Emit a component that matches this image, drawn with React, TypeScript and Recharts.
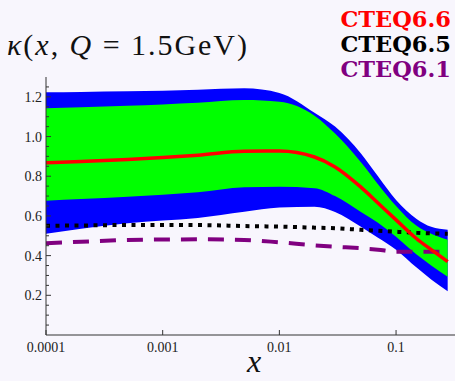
import { ComposedChart, Area, Line, XAxis, YAxis } from 'recharts';

const xs = [0.0001, 0.0002, 0.0005, 0.001, 0.002, 0.005, 0.01, 0.02, 0.03, 0.05, 0.07, 0.1, 0.15, 0.2, 0.277];

// CTEQ6.6 error bands (outer = blue, inner = green)
const blueLow = [0.51, 0.535, 0.563, 0.577, 0.59, 0.621, 0.643, 0.646, 0.62, 0.545, 0.49, 0.43, 0.34, 0.28, 0.22];
const blueHigh = [1.223, 1.225, 1.228, 1.231, 1.236, 1.243, 1.22, 1.12, 1.05, 0.915, 0.8, 0.68, 0.585, 0.545, 0.53];
const greenLow = [0.677, 0.685, 0.697, 0.707, 0.719, 0.744, 0.747, 0.74, 0.7, 0.62, 0.565, 0.495, 0.405, 0.35, 0.294];
const greenHigh = [1.142, 1.148, 1.155, 1.162, 1.17, 1.184, 1.175, 1.105, 1.015, 0.87, 0.76, 0.65, 0.55, 0.51, 0.48];

// central values
const cteq66 = [0.868, 0.874, 0.884, 0.894, 0.906, 0.926, 0.927, 0.897, 0.847, 0.745, 0.665, 0.58, 0.485, 0.43, 0.37];
const cteq65 = [0.55, 0.552, 0.554, 0.554, 0.554, 0.549, 0.546, 0.541, 0.538, 0.53, 0.525, 0.52, 0.515, 0.512, 0.51];
const cteq61 = [0.462, 0.47, 0.479, 0.481, 0.482, 0.479, 0.467, 0.452, 0.445, 0.437, 0.43, 0.42, 0.42, 0.42, 0.42];

const xTicks = [0.0001, 0.001, 0.01, 0.1];
const yTicks = [0.05, 0.1, 0.15, 0.2, 0.25, 0.3, 0.35, 0.4, 0.45, 0.5, 0.55, 0.6, 0.65, 0.7, 0.75, 0.8, 0.85, 0.9, 0.95, 1.0, 1.05, 1.1, 1.15, 1.2, 1.25];
const yLabels = ['0.2', '0.4', '0.6', '0.8', '1.0', '1.2'];

const data = xs.map((x, i) => ({
  x,
  blue: [blueLow[i], blueHigh[i]],
  green: [greenLow[i], greenHigh[i]],
  c66: cteq66[i],
  c65: cteq65[i],
  c61: cteq61[i],
}));

const BG = '#f8f6fd';
const AXIS = '#333';
const serif = { fontFamily: 'Liberation Serif, DejaVu Serif, serif' };
const bold = { fontFamily: 'DejaVu Serif, serif', fontWeight: 'bold' as const, fontSize: 22.5 };

const XTick = (props: any) => {
  const { x, y, payload } = props;
  return (
    <g>
      <line x1={x} x2={x} y1={y} y2={y - 5} stroke={AXIS} strokeWidth={1} />
      <text x={x} y={y + 17} textAnchor="middle" fill="#222" style={{ ...serif, fontSize: 14 }}>
        {String(payload.value)}
      </text>
    </g>
  );
};

const YTick = (props: any) => {
  const { x, y, payload } = props;
  const label = yLabels.find((l) => Math.abs(parseFloat(l) - payload.value) < 1e-6);
  return (
    <g>
      <line x1={x} x2={x + (label ? 5 : 3)} y1={y} y2={y} stroke={AXIS} strokeWidth={1} />
      {label && (
        <text x={x - 4} y={y + 5} textAnchor="end" fill="#222" style={{ ...serif, fontSize: 14 }}>
          {label}
        </text>
      )}
    </g>
  );
};

export default function App() {
  return (
    <div style={{ position: 'absolute', left: 0, top: 0, width: 455, height: 381, background: BG }}>
      <ComposedChart width={455} height={381} data={data} margin={{ top: 77, right: 0, left: 0, bottom: 0 }}>
        <XAxis
          dataKey="x"
          type="number"
          scale="log"
          domain={[0.0001, 0.32]}
          allowDataOverflow
          ticks={xTicks}
          interval={0}
          height={46}
          tickSize={0}
          tickMargin={0}
          tickLine={false}
          axisLine={{ stroke: AXIS }}
          tick={XTick}
        />
        <YAxis
          type="number"
          domain={[0, 1.3]}
          allowDataOverflow
          ticks={yTicks}
          interval={0}
          width={46}
          tickSize={0}
          tickMargin={0}
          tickLine={false}
          axisLine={{ stroke: AXIS }}
          tick={YTick}
        />
        <Area dataKey="blue" type="monotone" fill="#0000ff" fillOpacity={1} stroke="none" isAnimationActive={false} />
        <Area dataKey="green" type="monotone" fill="#00ff00" fillOpacity={1} stroke="none" isAnimationActive={false} />
        <Line dataKey="c65" type="monotone" stroke="#000" strokeWidth={4} strokeDasharray="4 5.5" dot={false} isAnimationActive={false} />
        <Line dataKey="c61" type="monotone" stroke="#800080" strokeWidth={4} strokeDasharray="16 11" dot={false} isAnimationActive={false} />
        <Line dataKey="c66" type="monotone" stroke="#ff0000" strokeWidth={3.5} dot={false} isAnimationActive={false} />
      </ComposedChart>
      <svg width={455} height={381} style={{ position: 'absolute', left: 0, top: 0, pointerEvents: 'none' }}>
        <text x={7} y={55} fill="#111" textLength={240} style={{ ...serif, fontSize: 30 }}>
          <tspan fontStyle="italic">κ</tspan>(<tspan fontStyle="italic">x</tspan>, <tspan fontStyle="italic">Q</tspan> = 1.5GeV)
        </text>
        <text x={451} y={27} textAnchor="end" fill="#ff0000" style={bold}>CTEQ6.6</text>
        <text x={451} y={52} textAnchor="end" fill="#000" style={bold}>CTEQ6.5</text>
        <text x={451} y={77} textAnchor="end" fill="#800080" style={bold}>CTEQ6.1</text>
        <text x={254} y={372} textAnchor="middle" fill="#111" style={{ ...serif, fontSize: 32, fontStyle: 'italic' }}>x</text>
      </svg>
    </div>
  );
}
